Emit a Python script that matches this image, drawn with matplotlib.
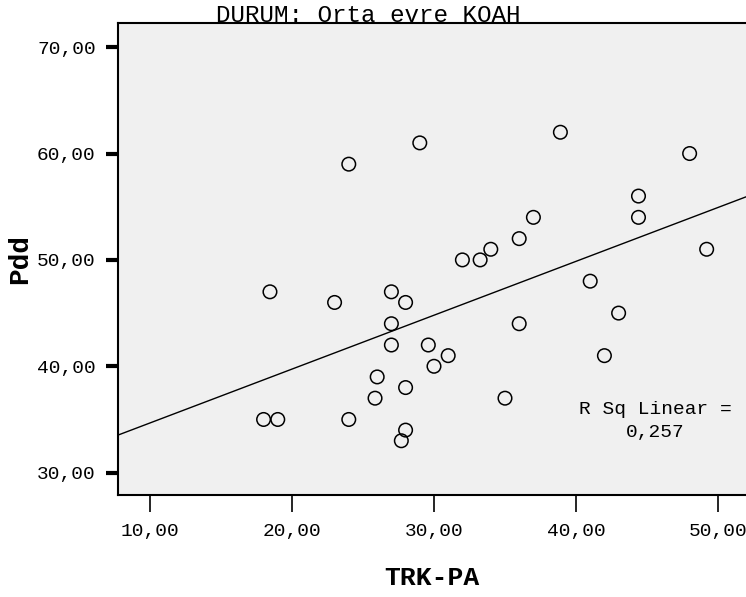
import numpy as np
import matplotlib
matplotlib.use("Agg")
import matplotlib.pyplot as plt

# TRK-PA vs Pdd, Orta evre KOAH group
trk_pa = [18.0, 19.0, 24.0, 26.0, 25.85, 27.0, 27.0, 27.0, 28.0, 28.0, 28.0, 27.7,
          18.45, 23.0, 24.0, 29.0, 29.6, 30.0, 31.0, 32.0, 33.25, 34.0, 35.0, 36.0,
          36.0, 37.0, 38.9, 41.0, 42.0, 43.0, 44.4, 44.4, 48.0, 49.2]
pdd = [35, 35, 35, 39, 37, 42, 44, 47, 46, 38, 34, 33,
       47, 46, 59, 61, 42, 40, 41, 50, 50, 51, 37, 52,
       44, 54, 62, 48, 41, 45, 56, 54, 60, 51]
x_ticks = [10, 20, 30, 40, 50]
y_ticks = [30, 40, 50, 60, 70]
r_sq_text = "R Sq Linear =\n0,257"

font = "Liberation Mono"

fig = plt.figure(figsize=(7.46, 5.97), dpi=100)
ax = fig.add_axes([118 / 746, 1 - 495 / 597, 1 - 118 / 746, (495 - 23) / 597])
ax.set_facecolor("#f0f0f0")

ax.scatter(trk_pa, pdd, s=95, facecolors="none", edgecolors="black", linewidths=1.1, zorder=3)

# linear fit
xlim = (7.75, 51.97)
k, b = np.polyfit(trk_pa, pdd, 1)
xs = np.array(xlim)
ax.plot(xs, k * xs + b, color="black", lw=1.0, zorder=2)

ax.set_xlim(*xlim)
ax.set_ylim(27.9, 72.27)
ax.set_xticks(x_ticks)
ax.set_yticks(y_ticks)
ax.set_xticklabels([f"{v},00" for v in x_ticks], fontfamily=font, fontsize=14)
ax.set_yticklabels([f"{v},00" for v in y_ticks], fontfamily=font, fontsize=14)
ax.tick_params(axis="x", direction="out", length=12, width=1.2, pad=8)
ax.tick_params(axis="y", direction="out", length=9, width=3, pad=7)

for side in ["left", "bottom", "top"]:
    ax.spines[side].set_linewidth(1.5)
ax.spines["right"].set_visible(False)

ax.text(45.6, 34.85, r_sq_text, ha="center", va="center", fontfamily=font,
        fontsize=14, linespacing=1.45)

ax.set_xlabel("TRK-PA", fontfamily=font, fontsize=19, fontweight="bold", labelpad=19)
ax.set_ylabel("Pdd", fontfamily=font, fontsize=20, fontweight="bold", labelpad=3)

fig.text(368 / 746, 1 - 15 / 597, "DURUM: Orta evre KOAH", ha="center", va="center",
         fontfamily=font, fontsize=17.5)

fig.savefig("out.png", dpi=100)
